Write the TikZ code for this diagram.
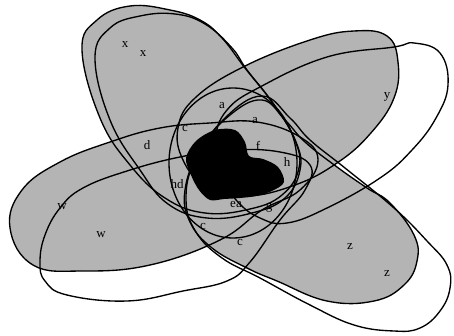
\documentclass[tikz,border=0pt]{standalone}
\usepackage{fontspec}
\setmainfont{Liberation Serif}
\usepackage{tikz}
\usetikzlibrary{positioning}

\definecolor{petalgray}{RGB}{180,180,180}

\begin{document}
\begin{tikzpicture}[
    x=1pt, y=-1pt,
    line width=1.35pt,
    petal/.style={draw=black, fill=petalgray},
    rim/.style={draw=black},
    lbl/.style={font=\fontsize{13}{13}\selectfont, inner sep=0pt},
]
    \useasboundingbox (0,0) rectangle (454,336);

    % Petal outlines (shared by fill and stroke)
    \def\petalx{(82,50) (97,20) (130,6) (170,10) (200,20) (222,38) (245,68) (272,102) (294,138) (299,168) (282,195) (250,209) (205,213) (165,198) (130,165) (100,118)}
    \def\petaly{(178,128) (195,98) (243,67) (310,40) (354,31) (387,36) (398,62) (394,98) (370,134) (337,163) (295,185) (245,196) (205,185) (183,160)}
    \def\petalz{(262,100) (285,120) (305,142) (337,167) (367,188) (390,203) (414,235) (417,261) (404,285) (374,301) (327,301) (277,281) (247,268) (212,248) (190,222) (185,190) (200,150) (230,115)}
    \def\petalw{(10,228) (22,190) (60,162) (110,142) (160,128) (210,123) (257,122) (300,137) (318,160) (300,190) (262,210) (220,240) (150,265) (83,271) (33,265)}

    % Filled petals
    \foreach \p in {\petalx, \petaly, \petalz, \petalw}
        \path[fill=petalgray] plot[smooth cycle, tension=0.7] coordinates {\p};

    % Black core
    \fill[black] plot[smooth cycle, tension=0.55] coordinates {(186,158) (196,141) (215,130) (235,130) (245,142) (249,156) (263,159) (278,167) (284,182) (272,191) (256,196) (240,198) (224,199) (210,200) (199,190) (191,175)};

    % Petal edges
    \foreach \p in {\petalx, \petaly, \petalz, \petalw}
        \draw[rim] plot[smooth cycle, tension=0.7] coordinates {\p};

    % Open twin outlines
    \draw[rim] plot[smooth cycle, tension=0.7] coordinates {(95,58) (110,28) (140,16) (175,14) (205,24) (232,48) (247,70) (275,106) (296,142) (300,170) (285,198) (252,213) (207,218) (168,204) (140,170) (110,120)};
    \draw[rim] plot[smooth cycle, tension=0.7] coordinates {(227,110) (260,87) (327,57) (394,47) (414,43) (440,53) (448,85) (436,118) (412,150) (380,178) (327,208) (287,223) (260,218) (237,201) (218,172) (215,140)};
    \draw[rim] plot[smooth cycle, tension=0.7] coordinates {(262,96) (290,118) (310,140) (345,168) (394,208) (427,241) (447,265) (450,288) (440,311) (420,328) (394,331) (354,325) (310,305) (260,278) (222,258) (196,232) (186,200) (195,160) (225,118)};
    \draw[rim] plot[smooth cycle, tension=0.7] coordinates {(45,235) (60,208) (83,188) (127,171) (180,157) (230,150) (280,152) (310,165) (305,190) (280,220) (250,262) (227,281) (183,291) (127,301) (67,295) (45,281) (40,262)};

    % Inner ring
    \draw[rim] (233,163) ellipse [x radius=64, y radius=75];

    % Labels
    \node[lbl] (x1) at (125,45) {x};
    \node[lbl] (x2) at (143,54) {x};
    \node[lbl] (y1) at (387,97) {y};
    \node[lbl] (w1) at (62,207) {w};
    \node[lbl] (w2) at (101,235) {w};
    \node[lbl] (z1) at (350,247) {z};
    \node[lbl] (z2) at (387,274) {z};
    \node[lbl] (a1) at (222,106) {a};
    \node[lbl] (a2) at (255,121) {a};
    \node[lbl] (c1) at (185,129) {c};
    \node[lbl] (d1) at (147,145) {d};
    \node[lbl] (f1) at (258,146) {f};
    \node[lbl] (h1) at (287,162) {h};
    \node[lbl] (hd) at (177,184) {hd};
    \node[lbl] (ea) at (236,205) {ea};
    \node[lbl] (g1) at (269,208) {g};
    \node[lbl] (c2) at (203,227) {c};
    \node[lbl] (c3) at (240,243) {c};
\end{tikzpicture}
\end{document}
